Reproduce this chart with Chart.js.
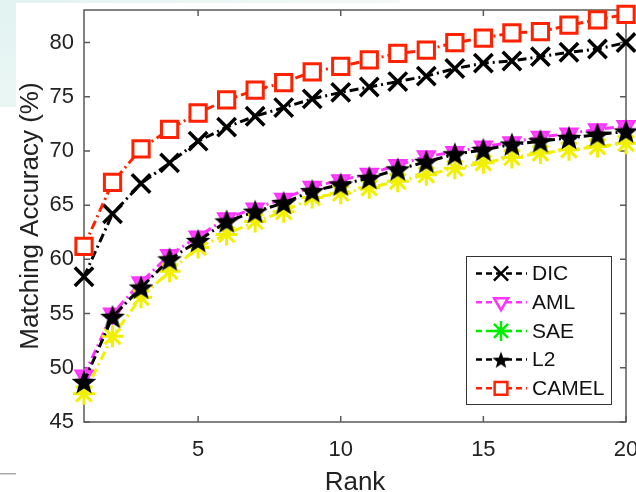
<!DOCTYPE html>
<html><head><meta charset="utf-8">
<script src="https://cdn.jsdelivr.net/npm/chart.js@4.4.1/dist/chart.umd.min.js"></script>
<style>html,body{margin:0;padding:0;background:#fff}#wrap{width:636px;height:492px;position:relative}</style>
</head><body><div id="wrap"><canvas id="c" width="636" height="492"></canvas></div>
<script>
const ranks = [1,2,3,4,5,6,7,8,9,10,11,12,13,14,15,16,17,18,19,20];
const xTicks = [5,10,15,20];
const yTicks = [45,50,55,60,65,70,75,80];
const seriesNames = ['DIC','AML','SAE','L2','CAMEL'];
const dic   = [58.4,64.2,67.0,68.9,70.9,72.2,73.2,74.0,74.8,75.4,75.9,76.4,76.9,77.6,78.1,78.3,78.7,79.1,79.4,80.0];
const aml   = [49.3,55.0,57.9,60.4,62.1,63.8,64.7,65.6,66.7,67.3,67.9,68.7,69.5,69.9,70.4,70.8,71.3,71.6,72.0,72.3];
const sae   = [47.6,52.9,56.5,58.9,61.1,62.3,63.5,64.4,65.7,66.1,66.6,67.2,67.8,68.4,68.9,69.4,69.8,70.1,70.4,70.7];
const l2    = [48.7,54.7,57.4,60.0,61.7,63.5,64.4,65.2,66.3,66.9,67.5,68.3,69.0,69.7,70.1,70.6,70.9,71.2,71.5,71.8];
const camel = [61.2,67.1,70.2,72.0,73.5,74.7,75.6,76.3,77.3,77.8,78.4,79.0,79.3,80.0,80.4,80.9,81.0,81.6,82.1,82.6];

function starCanvas(r, color){
  const s = Math.ceil(r*2+2);
  const c = document.createElement('canvas'); c.width = s; c.height = s;
  const g = c.getContext('2d'); g.fillStyle = color; g.beginPath();
  for (let i=0;i<10;i++){
    const a = -Math.PI/2 + i*Math.PI/5; const rr = (i%2) ? r*0.42 : r;
    g.lineTo(s/2 + rr*Math.cos(a), s/2 + 1 + rr*Math.sin(a));
  }
  g.closePath(); g.fill(); return c;
}
const starBig = starCanvas(13, '#000');
const starSmall = starCanvas(9, '#000');

const pts = arr => arr.map((v,i)=>({x:ranks[i], y:v}));
const dash = [9,4,2,4];
Chart.defaults.font.family = "'Liberation Sans', Arial, Helvetica, sans-serif";

const bgPlugin = {
  id:'bg',
  beforeDraw(chart){
    const ctx = chart.ctx; ctx.save();
    ctx.fillStyle = '#fff'; ctx.fillRect(0,0,636,492);
    const g = ctx.createLinearGradient(0,0,0,107);
    g.addColorStop(0,'#e2f3f1'); g.addColorStop(1,'#eaf6f4');
    ctx.fillStyle = g; ctx.fillRect(0,0,16,107);
    const g2 = ctx.createLinearGradient(0,0,400,0);
    g2.addColorStop(0,'#e2f3f1'); g2.addColorStop(1,'#f4f8f8');
    ctx.fillStyle = g2; ctx.fillRect(0,0,400,3);
    ctx.fillStyle = '#aaa'; ctx.fillRect(0,473,16,1.5);
    ctx.restore();
  }
};
const framePlugin = {
  id:'frame',
  beforeDatasetsDraw(chart){
    const ctx = chart.ctx, a = chart.chartArea, xs = chart.scales.x, ys = chart.scales.y;
    ctx.save(); ctx.strokeStyle = '#5a5a5a'; ctx.lineWidth = 1.5;
    ctx.strokeRect(a.left, a.top, a.right-a.left, a.bottom-a.top);
    const L = 6; ctx.beginPath();
    xTicks.forEach(v=>{ const x = xs.getPixelForValue(v);
      ctx.moveTo(x,a.bottom); ctx.lineTo(x,a.bottom-L); ctx.moveTo(x,a.top); ctx.lineTo(x,a.top+L); });
    yTicks.forEach(v=>{ const y = ys.getPixelForValue(v);
      ctx.moveTo(a.left,y); ctx.lineTo(a.left+L,y); ctx.moveTo(a.right,y); ctx.lineTo(a.right-L,y); });
    ctx.stroke(); ctx.restore();
  }
};
const legendPlugin = {
  id:'customLegend',
  afterDraw(chart){
    const ctx = chart.ctx; ctx.save();
    const bx=466, by=256, bw=145, bh=148;
    ctx.fillStyle='#fff'; ctx.fillRect(bx,by,bw,bh);
    ctx.strokeStyle='#333'; ctx.lineWidth=1; ctx.strokeRect(bx+0.5,by+0.5,bw,bh);
    chart.data.datasets.forEach((ds,i)=>{
      const y = by + 17.5 + i*28.7;
      const col = ds.legendColor || ds.borderColor;
      ctx.strokeStyle = col; ctx.lineWidth = 2.5; ctx.setLineDash([6,4]);
      ctx.beginPath(); ctx.moveTo(bx+10,y); ctx.lineTo(bx+61,y); ctx.stroke();
      ctx.setLineDash([]);
      ctx.fillStyle = ds.legendFill || '#fff'; ctx.strokeStyle = col; ctx.lineWidth = 2.5;
      Chart.helpers.drawPoint(ctx, {pointStyle: ds.legendStyle || ds.pointStyle, radius: ds.legendRadius || 7, rotation: ds.pointRotation || 0, borderWidth: 2.5}, bx+35, y);
      ctx.fillStyle = '#111'; ctx.font = "21px 'Liberation Sans', Arial, sans-serif";
      ctx.textBaseline = 'middle'; ctx.textAlign = 'left';
      ctx.fillText(ds.label, bx+66, y+1);
    });
    ctx.restore();
  }
};

new Chart(document.getElementById('c'), {
  type:'line',
  data:{ datasets:[
    {label:seriesNames[0], data:pts(dic), borderColor:'#000', borderWidth:3, borderDash:dash,
      pointStyle:'crossRot', pointRadius:13, pointBorderWidth:3.5, pointBorderColor:'#000', pointBackgroundColor:'#000',
      legendRadius:10, order:1},
    {label:seriesNames[1], data:pts(aml), borderColor:'#ff33ff', borderWidth:3, borderDash:dash,
      pointStyle:'triangle', pointRotation:180, pointRadius:10, pointBorderWidth:2, pointBorderColor:'#ff33ff', pointBackgroundColor:'#ff44ff',
      legendFill:'#fff', legendRadius:8, order:4},
    {label:seriesNames[2], data:pts(sae), borderColor:'#f0f000', borderWidth:3, borderDash:dash,
      pointStyle:'star', pointRadius:11, pointBorderWidth:3, pointBorderColor:'#f0f000', pointBackgroundColor:'#f0f000',
      legendColor:'#00ee00', legendRadius:10, order:3},
    {label:seriesNames[3], data:pts(l2), borderColor:'#000', borderWidth:3, borderDash:dash,
      pointStyle:starBig, legendStyle:starSmall, legendFill:'#000', order:2},
    {label:seriesNames[4], data:pts(camel), borderColor:'#ff2200', borderWidth:3, borderDash:dash,
      pointStyle:'rect', pointRadius:11.5, pointBorderWidth:3, pointBorderColor:'#ff2200', pointBackgroundColor:'#fff',
      legendRadius:9, order:0}
  ].map(d=>Object.assign({clip:false, tension:0, fill:false}, d))},
  options:{
    responsive:false, animation:false, devicePixelRatio:1,
    layout:{autoPadding:false, padding:{top:10,right:10,left:0,bottom:0}},
    plugins:{legend:{display:false}, tooltip:{enabled:false}},
    scales:{
      x:{type:'linear', min:1, max:20,
        grid:{display:false, drawTicks:false}, border:{display:false},
        afterBuildTicks: s=>{ s.ticks = xTicks.map(v=>({value:v})); },
        afterFit: s=>{ s.height = 70; s.paddingLeft = 0; s.paddingRight = 0; },
        ticks:{font:{size:22}, color:'#222', padding:15, maxRotation:0, callback:v=>String(v)},
        title:{display:true, text:'Rank', font:{size:26}, color:'#222', padding:{top:0,bottom:-6}}
      },
      y:{type:'linear', min:45, max:83,
        grid:{display:false, drawTicks:false}, border:{display:false},
        afterBuildTicks: s=>{ s.ticks = yTicks.map(v=>({value:v})); },
        afterFit: s=>{ s.width = 84; s.paddingTop = 0; s.paddingBottom = 0; },
        ticks:{font:{size:22}, color:'#222', padding:10, callback:v=>String(v)},
        title:{display:true, text:'Matching Accuracy (%)', font:{size:26}, color:'#222', padding:{top:15,bottom:0}}
      }
    }
  },
  plugins:[bgPlugin, framePlugin, legendPlugin]
});
</script></body></html>
